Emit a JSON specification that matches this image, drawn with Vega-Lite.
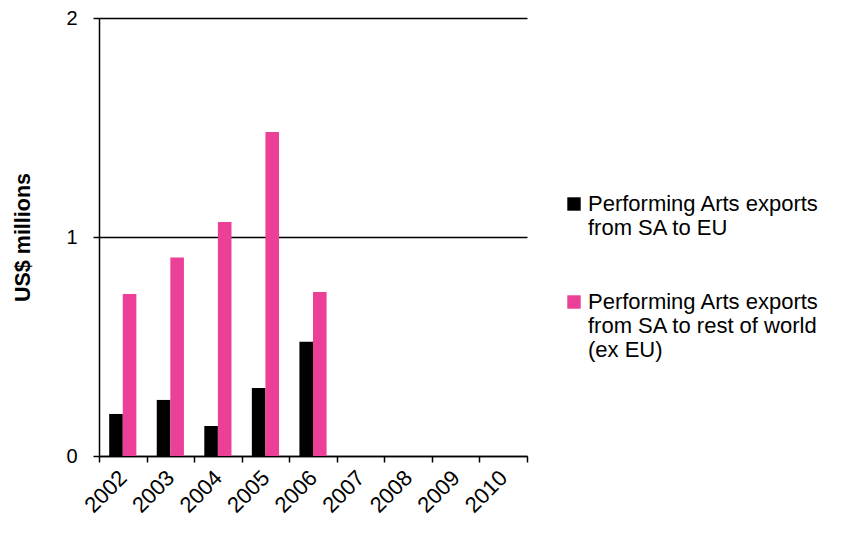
{
  "$schema": "https://vega.github.io/schema/vega-lite/v6.json",
  "width": 428,
  "height": 438,
  "autosize": {"type": "none"},
  "padding": {"left": 99, "top": 18, "right": 317, "bottom": 84},
  "background": "white",
  "config": {
    "font": "Liberation Sans",
    "view": {"stroke": null},
    "axis": {"labelColor": "black", "titleColor": "black", "domainColor": "black", "tickColor": "black", "labelFont": "Liberation Sans", "titleFont": "Liberation Sans"}
  },
  "data": {
    "values": [
      {"year": "2002", "series": "Performing Arts exports from SA to EU", "value": 0.192},
      {"year": "2002", "series": "Performing Arts exports from SA to rest of world (ex EU)", "value": 0.740},
      {"year": "2003", "series": "Performing Arts exports from SA to EU", "value": 0.256},
      {"year": "2003", "series": "Performing Arts exports from SA to rest of world (ex EU)", "value": 0.906},
      {"year": "2004", "series": "Performing Arts exports from SA to EU", "value": 0.137},
      {"year": "2004", "series": "Performing Arts exports from SA to rest of world (ex EU)", "value": 1.068},
      {"year": "2005", "series": "Performing Arts exports from SA to EU", "value": 0.311},
      {"year": "2005", "series": "Performing Arts exports from SA to rest of world (ex EU)", "value": 1.479},
      {"year": "2006", "series": "Performing Arts exports from SA to EU", "value": 0.522},
      {"year": "2006", "series": "Performing Arts exports from SA to rest of world (ex EU)", "value": 0.749}
    ]
  },
  "mark": {"type": "bar"},
  "encoding": {
    "x": {
      "field": "year",
      "type": "nominal",
      "scale": {"domain": ["2002", "2003", "2004", "2005", "2006", "2007", "2008", "2009", "2010"], "paddingInner": 0, "paddingOuter": 0},
      "axis": {
        "title": null,
        "labelAngle": -45,
        "labelAlign": "right",
        "labelBaseline": "middle",
        "tickBand": "extent",
        "labelFontSize": 22,
        "tickSize": 6,
        "labelPadding": 12,
        "domainWidth": 1.5,
        "tickWidth": 1.5
      }
    },
    "xOffset": {
      "field": "series",
      "scale": {"paddingOuter": 0.75, "paddingInner": 0}
    },
    "y": {
      "field": "value",
      "type": "quantitative",
      "scale": {"domain": [0, 2]},
      "axis": {
        "values": [0, 1, 2],
        "labelExpr": "format(datum.value, 'd')",
        "grid": true,
        "gridColor": "black",
        "gridWidth": 1.5,
        "gridOpacity": 1,
        "title": "US$ millions",
        "titleFontSize": 21.5,
        "titleFontWeight": "bold",
        "titlePadding": 31,
        "labelFontSize": 20,
        "labelPadding": 16,
        "tickSize": 6,
        "domainWidth": 1.5,
        "tickWidth": 1.5
      }
    },
    "color": {
      "field": "series",
      "type": "nominal",
      "scale": {
        "domain": ["Performing Arts exports from SA to EU", "Performing Arts exports from SA to rest of world (ex EU)"],
        "range": ["#000000", "#EC3F97"]
      },
      "legend": {
        "title": null,
        "orient": "none",
        "legendX": 464,
        "legendY": 175,
        "symbolType": "square",
        "symbolSize": 180,
        "symbolStrokeWidth": 0,
        "labelFontSize": 22,
        "labelColor": "black",
        "labelLimit": 320,
        "labelLineHeight": 27,
        "labelBaseline": "middle",
        "labelOffset": 3,
        "rowPadding": 52,
        "labelExpr": "datum.label == 'Performing Arts exports from SA to EU' ? ['Performing Arts exports', 'from SA to EU'] : ['Performing Arts exports', 'from SA to rest of world', '(ex EU)']"
      }
    }
  }
}
